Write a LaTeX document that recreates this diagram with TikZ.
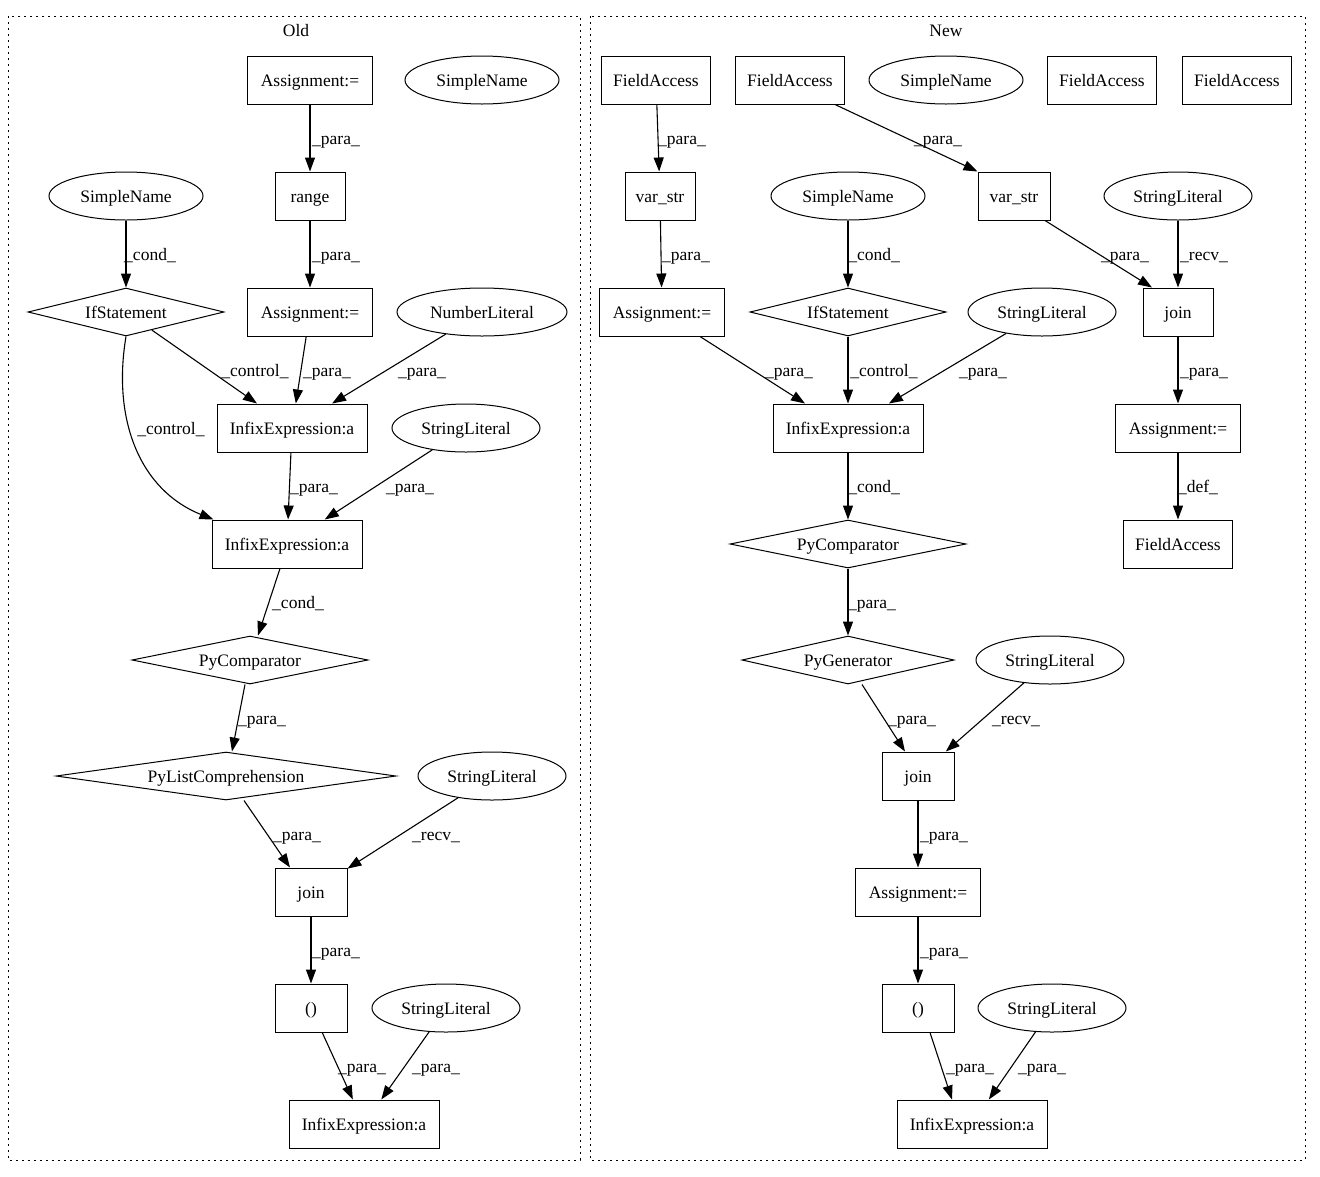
\documentclass[tikz,border=0pt]{standalone}
\usepackage{fontspec}
\setmainfont{Liberation Serif}
\usetikzlibrary{shapes.geometric,arrows.meta}
\begin{document}
\begin{tikzpicture}[x=1pt,y=-1pt,
  every node/.style={font=\fontsize{17.5}{20}\selectfont, line width=1pt, text height=12, text depth=0},
  box/.style={draw, rectangle, minimum height=48, inner sep=0pt},
  ell/.style={draw, ellipse, minimum height=48, inner sep=0pt},
  dia/.style={draw, diamond, aspect=7, inner sep=0pt, minimum height=48},
  e/.style={draw, line width=1.1pt, -{Triangle[length=14pt,width=10pt]}},
  lbl/.style={inner sep=0pt},
  cluster/.style={draw, line width=1pt, dash pattern=on 2pt off 4pt}]
\useasboundingbox (0,0) rectangle (1320,1176);
\fill[white] (0,0) rectangle (1320,1176);
% clusters
\draw[cluster] (8,16) rectangle (580,1160);
\draw[cluster] (590,16) rectangle (1305,1160);
\node (oldlbl) at (296,30) {Old};
\node (newlbl) at (946,30) {New};

% ---------- Old ----------
\node[box, minimum width=125] (oA1) at (310,80) {Assignment:=};
\node[ell, minimum width=154] (oSN1) at (482,80) {SimpleName};
\node[box, minimum width=70] (orange) at (310,196) {range};
\node[ell, minimum width=154] (oSN2) at (126,196) {SimpleName};
\node[dia, minimum width=196] (oIf) at (126,312) {IfStatement};
\node[box, minimum width=125] (oA2) at (310,312) {Assignment:=};
\node[ell, minimum width=170] (oNL) at (482,312) {NumberLiteral};
\node[box, minimum width=150] (oIE1) at (292,428) {InfixExpression:a};
\node[ell, minimum width=148] (oSL1) at (466,428) {StringLiteral};
\node[box, minimum width=150] (oIE2) at (287,544) {InfixExpression:a};
\node[dia, minimum width=236] (oPC) at (250,660) {PyComparator};
\node[dia, minimum width=340] (oPLC) at (226,776) {PyListComprehension};
\node[ell, minimum width=148] (oSL2) at (492,776) {StringLiteral};
\node[box, minimum width=72] (ojoin) at (311,892) {join};
\node[box, minimum width=72] (opar) at (311,1008) {()};
\node[ell, minimum width=148] (oSL3) at (446,1008) {StringLiteral};
\node[box, minimum width=150] (oIE3) at (364,1124) {InfixExpression:a};

\draw[e] (oA1) -- (orange);
\draw[e] (orange) -- (oA2);
\draw[e] (oSN2) -- (oIf);
\draw[e] (oIf) -- (oIE1);
\draw[e] (oA2) -- (oIE1);
\draw[e] (oNL) -- (oIE1);
\draw[e] (oIf.south) .. controls (112,420) and (140,490) .. ([xshift=2]oIE2.north west);
\draw[e] (oIE1) -- (oIE2);
\draw[e] (oSL1) -- (oIE2);
\draw[e] ([xshift=-7]oIE2.south) -- ([xshift=8]oPC.north);
\draw[e] ([xshift=-5]oPC.south) -- ([xshift=6]oPLC.north);
\draw[e] ([xshift=18]oPLC.south) -- ([xshift=-21]ojoin.north);
\draw[e] (oSL2) -- (ojoin);
\draw[e] (ojoin) -- (opar);
\draw[e] (opar) -- (oIE3);
\draw[e] (oSL3) -- (oIE3);

\node[lbl] (l1) at (336,138) {\_para\_};
\node[lbl] (l2) at (336,254) {\_para\_};
\node[lbl] (l3) at (150,254) {\_cond\_};
\node[lbl] (l4) at (255,370) {\_control\_};
\node[lbl] (l5) at (327,370) {\_para\_};
\node[lbl] (l6) at (422,370) {\_para\_};
\node[lbl] (l7) at (171,428) {\_control\_};
\node[lbl] (l8) at (314,486) {\_para\_};
\node[lbl] (l9) at (410,486) {\_para\_};
\node[lbl] (l10) at (298,602) {\_cond\_};
\node[lbl] (l11) at (262,718) {\_para\_};
\node[lbl] (l12) at (297,834) {\_para\_};
\node[lbl] (l13) at (436,834) {\_recv\_};
\node[lbl] (l14) at (336,950) {\_para\_};
\node[lbl] (l15) at (362,1066) {\_para\_};
\node[lbl] (l16) at (436,1066) {\_para\_};

% ---------- New ----------
\node[box, minimum width=109] (nFA1) at (656,80) {FieldAccess};
\node[box, minimum width=109] (nFA2) at (790,80) {FieldAccess};
\node[ell, minimum width=154] (nSN1) at (946,80) {SimpleName};
\node[box, minimum width=109] (nFA3) at (1102,80) {FieldAccess};
\node[box, minimum width=109] (nFA4) at (1237,80) {FieldAccess};
\node[box, minimum width=70] (nvs1) at (660,196) {var\_str};
\node[ell, minimum width=154] (nSN2) at (848,196) {SimpleName};
\node[box, minimum width=72] (nvs2) at (1014,196) {var\_str};
\node[ell, minimum width=148] (nSL1) at (1178,196) {StringLiteral};
\node[box, minimum width=125] (nA3) at (662,312) {Assignment:=};
\node[dia, minimum width=196] (nIf) at (848,312) {IfStatement};
\node[ell, minimum width=148] (nSL2) at (1042,312) {StringLiteral};
\node[box, minimum width=70] (njoin1) at (1178,312) {join};
\node[box, minimum width=150] (nIE4) at (848,428) {InfixExpression:a};
\node[box, minimum width=125] (nA4) at (1178,428) {Assignment:=};
\node[dia, minimum width=236] (nPC) at (848,544) {PyComparator};
\node[box, minimum width=109] (nFA5) at (1178,544) {FieldAccess};
\node[dia, minimum width=212] (nPG) at (848,660) {PyGenerator};
\node[ell, minimum width=148] (nSL3) at (1050,660) {StringLiteral};
\node[box, minimum width=72] (njoin2) at (918,776) {join};
\node[box, minimum width=125] (nA5) at (918,892) {Assignment:=};
\node[box, minimum width=72] (npar) at (918,1008) {()};
\node[ell, minimum width=148] (nSL4) at (1052,1008) {StringLiteral};
\node[box, minimum width=150] (nIE5) at (972,1124) {InfixExpression:a};

\draw[e] (nFA1) -- (nvs1);
\draw[e] ([xshift=45]nFA2.south) -- (nvs2.north west);
\draw[e] (nvs1) -- (nA3);
\draw[e] (nSN2) -- (nIf);
\draw[e] ([xshift=31]nvs2.south) -- ([xshift=-26]njoin1.north);
\draw[e] (nSL1) -- (njoin1);
\draw[e] ([xshift=38]nA3.south) -- ([xshift=-43]nIE4.north);
\draw[e] (nIf) -- (nIE4);
\draw[e] (nSL2) -- (nIE4);
\draw[e] (njoin1) -- (nA4);
\draw[e] (nA4) -- (nFA5);
\draw[e] (nIE4) -- (nPC);
\draw[e] (nPC) -- (nPG);
\draw[e] ([xshift=14]nPG.south) -- ([xshift=-13]njoin2.north);
\draw[e] (nSL3) -- (njoin2);
\draw[e] (njoin2) -- (nA5);
\draw[e] (nA5) -- (npar);
\draw[e] ([xshift=12]npar.south) -- ([xshift=-20]nIE5.north);
\draw[e] (nSL4) -- (nIE5);

\node[lbl] (m1) at (682,138) {\_para\_};
\node[lbl] (m2) at (938,138) {\_para\_};
\node[lbl] (m3) at (686,254) {\_para\_};
\node[lbl] (m4) at (874,254) {\_cond\_};
\node[lbl] (m5) at (1125,254) {\_para\_};
\node[lbl] (m6) at (1204,254) {\_recv\_};
\node[lbl] (m7) at (789,370) {\_para\_};
\node[lbl] (m8) at (884,370) {\_control\_};
\node[lbl] (m9) at (983,370) {\_para\_};
\node[lbl] (m10) at (1204,370) {\_para\_};
\node[lbl] (m11) at (1198,486) {\_def\_};
\node[lbl] (m12) at (874,486) {\_cond\_};
\node[lbl] (m13) at (872,602) {\_para\_};
\node[lbl] (m14) at (912,718) {\_para\_};
\node[lbl] (m15) at (1016,718) {\_recv\_};
\node[lbl] (m16) at (944,834) {\_para\_};
\node[lbl] (m17) at (944,950) {\_para\_};
\node[lbl] (m18) at (970,1066) {\_para\_};
\node[lbl] (m19) at (1042,1066) {\_para\_};
\end{tikzpicture}
\end{document}
